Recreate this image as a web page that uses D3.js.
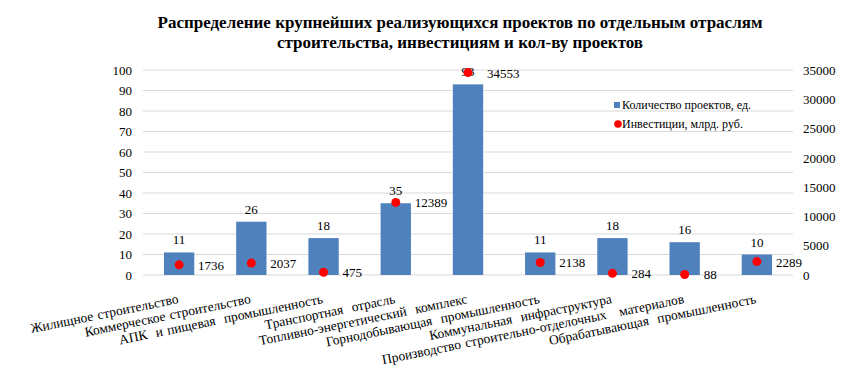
<!DOCTYPE html>
<html>
<head>
<meta charset="utf-8">
<script src="https://cdn.jsdelivr.net/npm/d3@7"></script>
</head>
<body style="margin:0;background:#fff">
<div id="chart"></div>
<script>
const categories = [
  "Жилищное строительство",
  "Коммерческое строительство",
  "АПК  и пищевая  промышленность",
  "Транспортная  отрасль",
  "Топливно-энергетический  комплекс",
  "Горнодобывающая  промышленность",
  "Коммунальная  инфраструктура",
  "Производство строительно-отделочных   материалов",
  "Обрабатывающая  промышленность"
];
const projects = [11, 26, 18, 35, 93, 11, 18, 16, 10];
const investments = [1736, 2037, 475, 12389, 34553, 2138, 284, 88, 2289];
const leftTicks = [0, 10, 20, 30, 40, 50, 60, 70, 80, 90, 100];
const rightTicks = [0, 5000, 10000, 15000, 20000, 25000, 30000, 35000];
const titleLines = [
  "Распределение крупнейших реализующихся проектов по отдельным отраслям",
  "строительства, инвестициям и кол-ву проектов"
];
const legendLabels = ["Количество проектов, ед.", "Инвестиции, млрд. руб."];

const FONT = '"Liberation Serif"';
const width = 868, height = 377;
const plot = { left: 143, right: 793, top: 70, bottom: 275 };

const svg = d3.select("#chart").append("svg")
  .attr("width", width)
  .attr("height", height)
  .style("font-family", FONT);

const x = d3.scaleBand()
  .domain(categories)
  .range([plot.left, plot.right])
  .paddingInner(0.58)
  .paddingOuter(0.29);

const yLeft = d3.scaleLinear().domain([0, 100]).range([plot.bottom, plot.top]);
const yRight = d3.scaleLinear().domain([0, 35000]).range([plot.bottom, plot.top]);

// title
svg.append("g").selectAll("text")
  .data(titleLines)
  .enter()
  .append("text")
  .attr("x", 460)
  .attr("y", (d, i) => 28 + i * 20)
  .attr("text-anchor", "middle")
  .style("font-family", FONT)
  .style("font-size", "17px")
  .style("font-weight", "bold")
  .text(d => d);

// gridlines
svg.append("g").selectAll("line")
  .data(leftTicks)
  .enter()
  .append("line")
  .attr("x1", plot.left)
  .attr("x2", plot.right)
  .attr("y1", d => yLeft(d))
  .attr("y2", d => yLeft(d))
  .attr("stroke", "#d9d9d9")
  .attr("stroke-width", 1);

// left axis
const leftAxis = svg.append("g")
  .attr("transform", `translate(${plot.left},0)`)
  .call(d3.axisLeft(yLeft).tickValues(leftTicks).tickSize(0).tickPadding(11));
leftAxis.attr("font-family", null);
leftAxis.select(".domain").remove();
leftAxis.selectAll("text")
  .attr("fill", "#000")
  .style("font-family", FONT)
  .style("font-size", "13px");

// right axis
const rightAxis = svg.append("g")
  .attr("transform", `translate(${plot.right},0)`)
  .call(d3.axisRight(yRight).tickValues(rightTicks).tickFormat(d3.format("d")).tickSize(0).tickPadding(10));
rightAxis.attr("font-family", null);
rightAxis.select(".domain").remove();
rightAxis.selectAll("text")
  .attr("fill", "#000")
  .style("font-family", FONT)
  .style("font-size", "13px");

// bars
svg.append("g").selectAll("rect")
  .data(projects)
  .enter()
  .append("rect")
  .attr("x", (d, i) => x(categories[i]))
  .attr("y", d => yLeft(d))
  .attr("width", x.bandwidth())
  .attr("height", d => plot.bottom - yLeft(d))
  .attr("fill", "#4f81bd");

// bar labels
svg.append("g").selectAll("text")
  .data(projects)
  .enter()
  .append("text")
  .attr("x", (d, i) => x(categories[i]) + x.bandwidth() / 2)
  .attr("y", d => yLeft(d) - 8)
  .attr("text-anchor", "middle")
  .style("font-family", FONT)
  .style("font-size", "13px")
  .text(d => d);

// investment dots
svg.append("g").selectAll("circle")
  .data(investments)
  .enter()
  .append("circle")
  .attr("cx", (d, i) => x(categories[i]) + x.bandwidth() / 2)
  .attr("cy", d => yRight(d))
  .attr("r", 4.5)
  .attr("fill", "#ff0000");

// investment labels
svg.append("g").selectAll("text")
  .data(investments)
  .enter()
  .append("text")
  .attr("x", (d, i) => x(categories[i]) + x.bandwidth() / 2 + 19)
  .attr("y", d => yRight(d) + 5)
  .style("font-family", FONT)
  .style("font-size", "13px")
  .text(d => d);

// category labels
svg.append("g").selectAll("text")
  .data(categories)
  .enter()
  .append("text")
  .attr("transform", d => `translate(${x(d) + x.bandwidth() / 2},303) rotate(-11.5)`)
  .attr("text-anchor", "end")
  .style("font-family", FONT)
  .style("font-size", "13.5px")
  .style("white-space", "pre")
  .style("word-spacing", "1px")
  .text(d => d);

// legend
const legend = svg.append("g").attr("transform", "translate(614,0)");
legend.append("rect")
  .attr("x", 0).attr("y", 102)
  .attr("width", 6).attr("height", 6)
  .attr("fill", "#4f81bd");
legend.append("circle")
  .attr("cx", 4).attr("cy", 124)
  .attr("r", 3.8)
  .attr("fill", "#ff0000");
legend.selectAll("text.lg")
  .data(legendLabels)
  .enter()
  .append("text")
  .attr("class", "lg")
  .attr("x", 8)
  .attr("y", (d, i) => 109 + i * 19)
  .style("font-family", FONT)
  .style("font-size", "12px")
  .text(d => d);
</script>
</body>
</html>
